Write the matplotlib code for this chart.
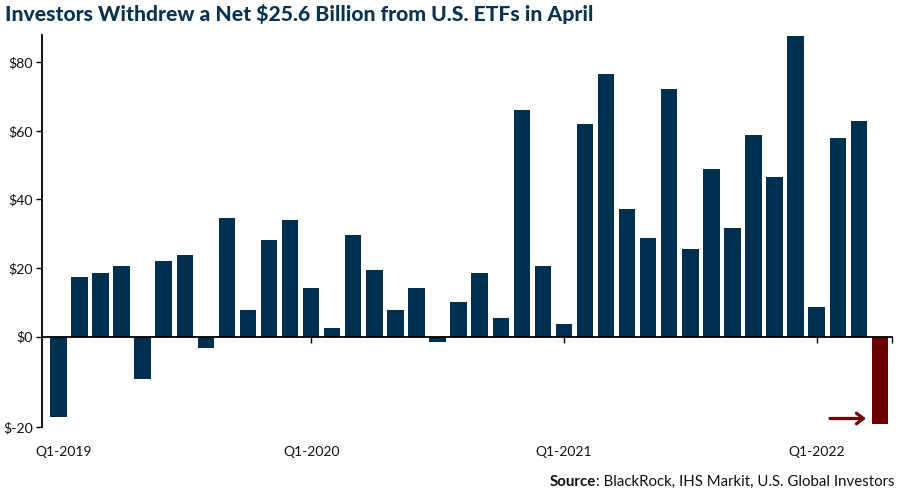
import matplotlib
matplotlib.use("Agg")
import matplotlib.pyplot as plt
from matplotlib.transforms import ScaledTranslation

plt.rcParams['font.family'] = ['Lato', 'DejaVu Sans']

title = "Investors Withdrew a Net $25.6 Billion from U.S. ETFs in April"
flows = [-23.5, 17.3, 18.5, 20.5, -12.4, 22.0, 23.9, -3.3, 34.7, 7.6, 28.1, 33.9,
         14.3, 2.4, 29.5, 19.5, 7.7, 14.2, -1.6, 10.1, 18.5, 5.4, 66.2, 20.7,
         3.7, 61.9, 76.5, 37.3, 28.7, 72.3, 25.5, 48.9, 31.6, 58.9, 46.5, 87.6,
         8.7, 57.9, 63.0, -25.6]
x_pos = list(range(len(flows)))
colors = ['#002f4f'] * (len(flows) - 1) + ['#6e0000']
y_ticks = [-26.4, 0, 20, 40, 60, 80]
y_labels = ['$-20', '$0', '$20', '$40', '$60', '$80']
x_ticks = [0, 12, 24, 36]
x_labels = ['Q1-2019', 'Q1-2020', 'Q1-2021', 'Q1-2022']

fig = plt.figure(figsize=(9, 4.94), dpi=100)
W, H = 900, 494
left, right, top, bottom = 41.5, 891.7, 35, 427
ax = fig.add_axes([left / W, 1 - bottom / H, (right - left) / W, (bottom - top) / H])

ax.bar(x_pos, flows, width=0.78, color=colors, zorder=1)
ax.set_axisbelow(True)
ax.set_xlim(-0.80, 39.56)
ax.set_ylim(-26.4, 88.0)

for s in ('top', 'right'):
    ax.spines[s].set_visible(False)
ax.spines['bottom'].set_position(('data', 0))
ax.spines['bottom'].set_linewidth(1.3)
ax.spines['left'].set_linewidth(1.3)

ax.set_yticks(y_ticks, y_labels)
ax.tick_params(axis='y', length=4.5, width=1, pad=1.5, labelsize=10.2, labelcolor='#111111')
ax.set_xticks(x_ticks, x_labels)
ax.set_xticks([39.56], minor=True)
ax.tick_params(axis='x', which='major', length=4.5, width=1, pad=74, labelsize=10, labelcolor='#111111')
ax.tick_params(axis='x', which='minor', length=4.5, width=1)

first = ax.get_xticklabels()[0]
first.set_transform(first.get_transform() + ScaledTranslation(5 / 100, 0, fig.dpi_scale_trans))

ax.annotate('', xy=(866, H - 418.5), xytext=(830, H - 418.5),
            xycoords='figure pixels', textcoords='figure pixels',
            arrowprops=dict(arrowstyle='->,head_length=0.5,head_width=0.38', color='#6e0000', lw=2.3,
                            shrinkA=0, shrinkB=0))

fig.text(5 / W, 1 - 14 / H, title, fontsize=15.25, fontweight='black', color='#0a3352', va='center', ha='left')

src = fig.text(894 / W, 1 - 482 / H, ': BlackRock, IHS Markit, U.S. Global Investors',
               fontsize=10.8, color='#111111', ha='right', va='center')
ax.annotate('Source', xy=(0, 0.5), xycoords=src, ha='right', va='center',
            fontsize=10.8, fontweight='bold', color='#111111', annotation_clip=False)

fig.savefig('out.png', dpi=100)
